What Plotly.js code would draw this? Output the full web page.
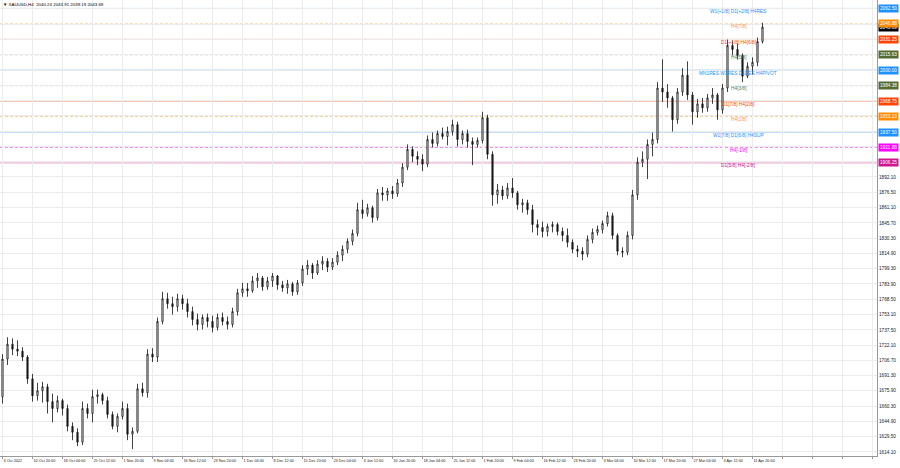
<!DOCTYPE html>
<html>
<head>
<meta charset="utf-8">
<script src="https://cdn.plot.ly/plotly-3.0.1.min.js"></script>
<style>html,body{margin:0;padding:0;background:#fff;}#chart{width:900px;height:468px;}</style>
</head>
<body>
<div id="chart"></div>
<script>
// ---- data (each candle ~ one trading day of H4 bars) ----
const candleOpen = [
1670,1708,1723,1718,1716,1710,1688,1671,1676,1680,
1665,1658,1666,1658,1640,1634,1624,1658,1653,1670,
1672,1666,1652,1640,1650,1658,1632,1635,1678,1674,
1713,1710,1746,1769,1764,1761,1769,1764,1756,1748,
1743,1750,1746,1740,1750,1746,1743,1756,1775,1779,
1777,1787,1790,1781,1787,1792,1783,1780,1784,1776,
1785,1799,1803,1795,1804,1807,1801,1806,1813,1819,
1827,1835,1859,1855,1861,1851,1876,1874,1878,1875,
1886,1902,1920,1913,1910,1905,1930,1926,1936,1933,
1938,1945,1930,1936,1928,1925,1929,1952,1915,1874,
1879,1873,1881,1876,1864,1866,1859,1844,1841,1837,
1842,1844,1837,1833,1826,1819,1817,1814,1829,1836,
1839,1845,1853,1833,1817,1816,1833,1874,1907,1910,
1925,1930,1982,1978,1972,1950,1978,1995,1975,1958,
1966,1962,1972,1975,1960,1982,2025,2021,2015,1994,
2004,2008,2029];
const candleHigh = [
1713,1730,1729,1727,1720,1712,1693,1684,1685,1683,
1673,1671,1668,1662,1644,1638,1665,1663,1677,1677,
1674,1670,1655,1653,1665,1663,1639,1683,1684,1718,
1719,1750,1776,1775,1771,1774,1773,1769,1761,1754,
1753,1754,1752,1754,1755,1751,1760,1779,1785,1785,
1792,1795,1792,1791,1795,1793,1787,1788,1786,1788,
1803,1808,1805,1808,1812,1810,1810,1817,1823,1830,
1839,1866,1869,1865,1863,1880,1882,1881,1883,1890,
1906,1925,1923,1918,1915,1934,1937,1939,1942,1943,
1950,1948,1939,1940,1932,1932,1958,1955,1918,1885,
1883,1886,1891,1878,1870,1869,1864,1849,1847,1845,
1847,1846,1841,1840,1829,1823,1821,1833,1840,1843,
1848,1857,1856,1835,1821,1837,1879,1912,1918,1930,
1937,1988,2011,1986,1974,1982,2002,2009,1978,1971,
1972,1976,1982,1977,1986,2031,2030,2027,2017,2008,
2013,2033,2048];
const candleLow = [
1663,1702,1712,1711,1706,1683,1665,1666,1664,1653,
1644,1654,1651,1635,1626,1620,1621,1648,1644,1663,
1662,1648,1637,1634,1647,1626,1617,1633,1670,1669,
1705,1705,1743,1759,1753,1756,1758,1750,1742,1737,
1738,1740,1735,1737,1742,1738,1740,1752,1771,1771,
1775,1780,1777,1778,1781,1778,1776,1774,1772,1773,
1782,1793,1789,1793,1798,1796,1798,1803,1807,1815,
1823,1832,1850,1852,1846,1848,1868,1868,1870,1872,
1882,1899,1907,1904,1898,1902,1922,1923,1930,1924,
1934,1923,1925,1922,1904,1922,1926,1910,1863,1865,
1869,1870,1871,1859,1856,1854,1836,1833,1831,1832,
1836,1833,1827,1821,1815,1811,1808,1811,1825,1833,
1835,1842,1829,1813,1811,1813,1829,1869,1902,1890,
1913,1926,1968,1962,1938,1946,1974,1970,1945,1952,
1957,1958,1966,1950,1956,1978,2015,2011,1988,1992,
1996,2004,2027];
const candleClose = [
1708,1723,1718,1716,1710,1688,1671,1676,1680,1665,
1658,1666,1658,1640,1634,1624,1658,1653,1670,1672,
1666,1652,1640,1650,1658,1632,1635,1678,1674,1713,
1710,1746,1769,1764,1761,1769,1764,1756,1748,1743,
1750,1746,1740,1750,1746,1743,1756,1775,1779,1777,
1787,1790,1781,1787,1792,1783,1780,1784,1776,1785,
1799,1803,1795,1804,1807,1801,1806,1813,1819,1827,
1835,1859,1855,1861,1851,1876,1874,1878,1875,1886,
1902,1920,1913,1910,1905,1930,1926,1936,1933,1938,
1945,1930,1936,1928,1925,1929,1952,1915,1874,1879,
1873,1881,1876,1864,1866,1859,1844,1841,1837,1842,
1844,1837,1833,1826,1819,1817,1814,1829,1836,1839,
1845,1853,1833,1817,1816,1833,1874,1907,1910,1925,
1930,1982,1978,1972,1950,1978,1995,1975,1958,1966,
1962,1972,1975,1960,1982,2025,2021,2015,1994,2004,
2008,2029,2043.69];

const dateLabels = ['3 Oct 2022','10 Oct 20:00','18 Oct 04:00','25 Oct 12:00','1 Nov 20:00','9 Nov 04:00',
  '16 Nov 12:00','23 Nov 20:00','1 Dec 04:00','8 Dec 12:00','15 Dec 20:00','23 Dec 04:00','3 Jan 12:00',
  '10 Jan 20:00','18 Jan 04:00','25 Jan 12:00','1 Feb 20:00','9 Feb 04:00','16 Feb 12:00','23 Feb 20:00',
  '3 Mar 04:00','10 Mar 12:00','17 Mar 20:00','27 Mar 04:00','3 Apr 12:00','11 Apr 20:00'];

const priceTicks = [1614.10,1629.50,1644.90,1660.30,1675.90,1691.30,1706.70,1722.10,1737.50,1753.10,
  1768.50,1783.90,1799.30,1814.90,1830.30,1845.70,1861.10,1876.50,1892.10];
const hiddenGridTicks = [1907.50,1922.90,1938.30,1953.90,1969.30,1984.70,2000.10,2015.70,2031.10,2046.50,2062.10];

const levelPrices = [2062.50,2046.88,2031.25,2015.63,2000.00,1984.38,1968.75,1953.13,1937.50,1921.88,1906.25];
const levelNames = ['W1[+1/8] D1[+2/8] H4RES','H4[7/8]','D1[+1/8] H4[6/8]','H4[5/8]','MN1RES W1RES D1RES H4PIVOT',
  'H4[3/8]','D1[7/8] H4[2/8]','H4[1/8]','W1[7/8] D1[6/8] H4SUP','H4[-1/8]','D1[5/8] H4[-2/8]'];
const symbolName = 'XAUUSD,H4';
const lastBar = [2040.24, 2043.91, 2039.19, 2043.69];
const bidPrice = 2043.69;

// ---- styles ----
const levelStyle = [
  {line:'#94c7f7', dash:'solid', w:1, text:'#1e90ff', box:'#1e90ff'},
  {line:'#f8cc98', dash:'3px,2px', w:1, text:'#ff9a1a', box:'#ff8c00'},
  {line:'#f5a88c', dash:'solid', w:1, text:'#ff4500', box:'#ff4500'},
  {line:'#c2beb0', dash:'3px,2px', w:1, text:'#6b7d3a', box:'#556b2f'},
  {line:'#5aaaf5', dash:'solid', w:1.2, text:'#1e90ff', box:'#1e90ff'},
  {line:'#c2beb0', dash:'3px,2px', w:1, text:'#6b7d3a', box:'#556b2f'},
  {line:'#f5a88c', dash:'solid', w:1, text:'#ff4500', box:'#ff4500'},
  {line:'#f8cc98', dash:'3px,2px', w:1, text:'#ff9a1a', box:'#ff8c00'},
  {line:'#94c7f7', dash:'solid', w:1, text:'#1e90ff', box:'#1e90ff'},
  {line:'#f48cf4', dash:'3px,2px', w:1, text:'#ff00ff', box:'#ff00ff'},
  {line:'#e8a0cc', dash:'solid', w:1, text:'#c71585', box:'#d0168f'}
];

const idx = candleOpen.map((_, i) => i);
const barsPerLabel = 6;
const gridCount = 30;
const xTickVals = [], xTickText = [];
for (let j = 0; j < gridCount; j++) { xTickVals.push(j * barsPerLabel); xTickText.push(j < dateLabels.length ? dateLabels[j] : ''); }
const yTickVals = priceTicks.concat(hiddenGridTicks);
const yTickText = priceTicks.map(v => v.toFixed(2)).concat(hiddenGridTicks.map(() => ''));

const traces = [{
  type: 'candlestick', x: idx, open: candleOpen, high: candleHigh, low: candleLow, close: candleClose,
  increasing: {line: {color: '#111', width: 0.8}, fillcolor: '#ffffff'},
  decreasing: {line: {color: '#111', width: 0.8}, fillcolor: '#222222'},
  whiskerwidth: 0, hoverinfo: 'none', showlegend: false
}];

const shapes = levelPrices.map((p, i) => ({
  type: 'line', xref: 'paper', x0: 0, x1: 1, yref: 'y', y0: p, y1: p, layer: 'below',
  line: {color: levelStyle[i].line, width: levelStyle[i].w, dash: levelStyle[i].dash}
}));

const labelX = 147.1;
const annotations = [];
levelPrices.forEach((p, i) => {
  annotations.push({
    x: labelX, y: p, xref: 'x', yref: 'y', text: levelNames[i], showarrow: false,
    xanchor: 'center', yanchor: 'middle', yshift: -3,
    font: {family: 'Liberation Sans', size: 4.8, color: levelStyle[i].text}
  });
});
annotations.push({
  x: 1, xref: 'paper', xshift: 1, y: bidPrice, yref: 'y', text: bidPrice.toFixed(2), showarrow: false,
  xanchor: 'left', yanchor: 'middle', bgcolor: '#000', borderpad: 1,
  font: {family: 'Liberation Sans', size: 4.7, color: '#fff'}
});
levelPrices.slice().reverse().forEach((p, r) => {
  const i = levelPrices.length - 1 - r;
  annotations.push({
    x: 1, xref: 'paper', xshift: 1, y: p, yref: 'y', text: p.toFixed(2), showarrow: false,
    xanchor: 'left', yanchor: 'middle', bgcolor: levelStyle[i].box, borderpad: 1,
    font: {family: 'Liberation Sans', size: 4.7, color: '#fff'}
  });
});
annotations.push({
  x: 0, xref: 'paper', xshift: 1, y: 1, yref: 'paper', yshift: 0,
  text: '▼ ' + symbolName + '  ' + lastBar.map(v => v.toFixed(2)).join(' '),
  showarrow: false, xanchor: 'left', yanchor: 'top',
  font: {family: 'Liberation Sans', size: 4.4, color: '#000'}
});

const layout = {
  width: 900, height: 468,
  margin: {l: 0, r: 23, t: 0, b: 12, pad: 0},
  paper_bgcolor: '#ffffff', plot_bgcolor: '#ffffff',
  showlegend: false,
  boxgap: 0.65,
  xaxis: {
    range: [-0.5, 174.9], tickmode: 'array', tickvals: xTickVals, ticktext: xTickText,
    ticklabelposition: 'outside right', tickangle: 0, ticks: 'outside', ticklen: 2, tickcolor: '#999',
    tickfont: {family: 'Liberation Sans', size: 3.8, color: '#222'},
    showgrid: true, gridcolor: '#ececec', gridwidth: 1, zeroline: false,
    showline: true, linecolor: '#999', linewidth: 1,
    rangeslider: {visible: false}, fixedrange: true
  },
  yaxis: {
    side: 'right', range: [1610.0, 2071.0], tickmode: 'array', tickvals: yTickVals, ticktext: yTickText,
    ticks: '', tickfont: {family: 'Liberation Sans', size: 4.7, color: '#222'},
    showgrid: true, gridcolor: '#ececec', gridwidth: 1, zeroline: false,
    showline: true, linecolor: '#999', linewidth: 1, fixedrange: true
  },
  shapes: shapes,
  annotations: annotations
};

Plotly.newPlot('chart', traces, layout, {staticPlot: true, displayModeBar: false});
</script>
</body>
</html>
